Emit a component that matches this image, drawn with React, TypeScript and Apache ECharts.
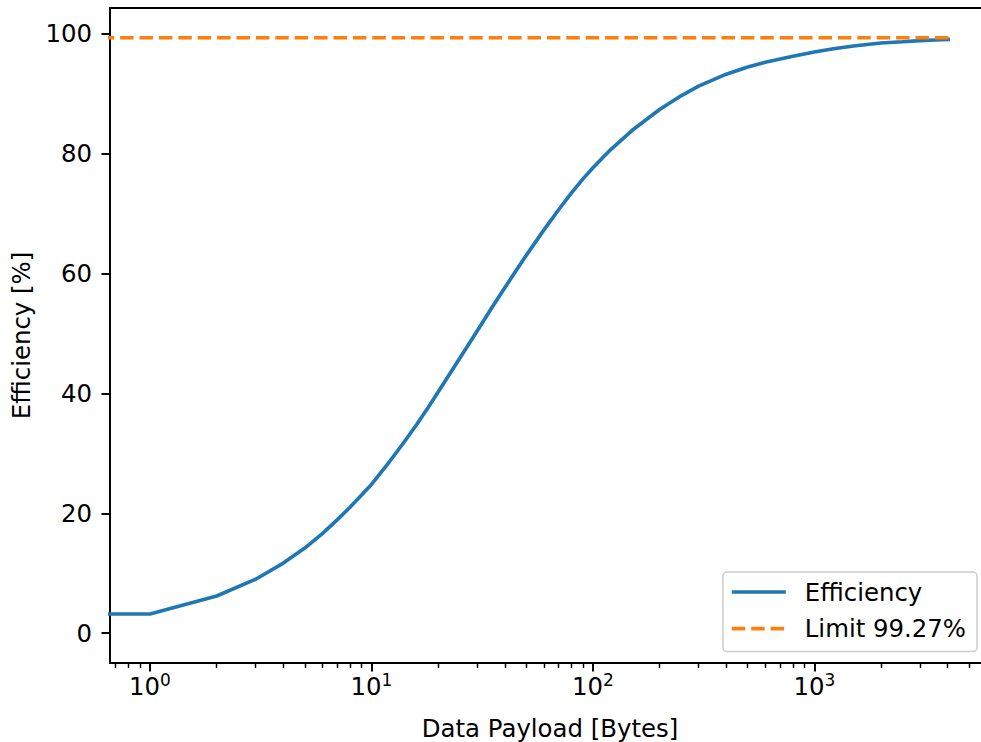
import React, { useEffect, useRef } from 'react';
import * as echarts from 'echarts';

// Data
const payloadBytes = [0, 1, 2, 3, 4, 5, 6, 7, 8, 9, 10, 12, 14, 16, 18, 20, 25, 30, 35, 40, 50, 60, 70, 80, 90, 100, 120, 150, 200, 250, 300, 400, 500, 600, 800, 1000, 1200, 1500, 2000, 2500, 3000, 3500, 4096];
const efficiencyPct = [0, 3.2, 6.2, 9.0, 11.7, 14.2, 16.6, 18.9, 21.0, 23.0, 24.8, 28.5, 31.8, 34.8, 37.6, 40.2, 45.8, 50.4, 54.3, 57.6, 63.0, 67.2, 70.6, 73.4, 75.7, 77.6, 80.6, 83.8, 87.3, 89.6, 91.2, 93.2, 94.4, 95.2, 96.2, 96.9, 97.4, 97.9, 98.4, 98.6, 98.8, 98.9, 99.0];
const limitBytes = [0, 4096];
const limitPct = [99.27, 99.27];

const xMajorTicks = [1, 10, 100, 1000];
const xMinorTicks = [0.7, 0.8, 0.9, 2, 3, 4, 5, 6, 7, 8, 9, 20, 30, 40, 50, 60, 70, 80, 90, 200, 300, 400, 500, 600, 700, 800, 900, 2000, 3000, 4000, 5000, 6000];
const yTicks = [0, 20, 40, 60, 80, 100];

const X_MIN = 0.6596;
const X_MAX = 6209;
const Y_MIN = -4.9635;
const Y_MAX = 104.2335;

const FONT = 'DejaVu Sans';
const FS = 24.4;

// matplotlib's log axis clips non-positive x to a tiny positive value
const clipLog = (x: number) => (x <= 0 ? 1e-300 : x);

export default function App() {
  const ref = useRef<HTMLDivElement>(null);
  useEffect(() => {
    if (!ref.current) return;
    const chart = echarts.init(ref.current, undefined, { renderer: 'svg' });
    const effData = payloadBytes.map((x, i) => [clipLog(x), efficiencyPct[i]]);
    const limData = limitBytes.map((x, i) => [clipLog(x), limitPct[i]]);
    chart.setOption({
      animation: false,
      backgroundColor: '#ffffff',
      grid: {
        left: 110,
        top: 8,
        right: 0,
        bottom: 79,
        containLabel: false,
        outerBoundsMode: 'none',
        show: true,
        borderColor: '#000000',
        borderWidth: 1.95,
        backgroundColor: 'transparent',
      },
      legend: {
        right: 13,
        top: 572,
        orient: 'vertical',
        padding: [8, 11, 11, 7],
        itemWidth: 54,
        itemHeight: 14,
        itemGap: 12.6,
        borderColor: '#cccccc',
        borderWidth: 1.5,
        borderRadius: 4,
        backgroundColor: 'rgba(255,255,255,0.8)',
        itemStyle: { opacity: 0 },
        lineStyle: { width: 3.66 },
        textStyle: {
          fontFamily: FONT,
          fontSize: FS,
          color: '#000000',
          lineHeight: 24,
          padding: [0, 0, 0, 14],
        },
        data: ['Efficiency', 'Limit 99.27%'],
      },
      xAxis: [
        {
          type: 'log',
          position: 'bottom',
          min: X_MIN,
          max: X_MAX,
          name: 'Data Payload [Bytes]',
          nameLocation: 'middle',
          nameGap: 53,
          nameTextStyle: { fontFamily: FONT, fontSize: FS, color: '#000000' },
          axisLine: { show: false, onZero: false },
          splitLine: { show: false },
          axisTick: {
            show: true,
            inside: false,
            length: 8.5,
            customValues: xMajorTicks,
            lineStyle: { color: '#000000', width: 1.95 },
          },
          axisLabel: {
            show: true,
            margin: 10,
            customValues: xMajorTicks,
            formatter: (v: number) => '{b|10}{s|' + Math.round(Math.log10(v)) + '}',
            rich: {
              b: { fontFamily: FONT, fontSize: FS, color: '#000000', lineHeight: 26 },
              s: { fontFamily: FONT, fontSize: 17, color: '#000000', lineHeight: 26, padding: [0, 0, 12, 0] },
            },
          },
        },
        {
          type: 'log',
          position: 'bottom',
          min: X_MIN,
          max: X_MAX,
          axisLine: { show: false, onZero: false },
          splitLine: { show: false },
          axisLabel: { show: false },
          axisTick: {
            show: true,
            inside: false,
            length: 4.9,
            customValues: xMinorTicks,
            lineStyle: { color: '#000000', width: 1.46 },
          },
        },
      ],
      yAxis: {
        type: 'value',
        min: Y_MIN,
        max: Y_MAX,
        name: 'Efficiency [%]',
        nameLocation: 'middle',
        nameRotate: 90,
        nameGap: 77,
        nameTextStyle: { fontFamily: FONT, fontSize: FS, color: '#000000' },
        axisLine: { show: false, onZero: false },
        splitLine: { show: false },
        axisTick: {
          show: true,
          inside: false,
          length: 8.5,
          customValues: yTicks,
          lineStyle: { color: '#000000', width: 1.95 },
        },
        axisLabel: {
          show: true,
          margin: 18,
          customValues: yTicks,
          fontFamily: FONT,
          fontSize: FS,
          color: '#000000',
        },
      },
      series: [
        {
          name: 'Efficiency',
          type: 'line',
          xAxisIndex: 0,
          data: effData,
          showSymbol: false,
          symbol: 'none',
          clip: true,
          lineStyle: { color: '#1f77b4', width: 3.66 },
          itemStyle: { color: '#1f77b4' },
          z: 3,
        },
        {
          name: 'Limit 99.27%',
          type: 'line',
          xAxisIndex: 0,
          data: limData,
          showSymbol: false,
          symbol: 'none',
          clip: true,
          lineStyle: { color: '#ff7f0e', width: 3.66, type: [13.5, 5.9] },
          itemStyle: { color: '#ff7f0e' },
          z: 4,
        },
      ],
    });
    return () => chart.dispose();
  }, []);
  return (
    <div
      style={{ position: 'absolute', left: 0, top: 0, width: 981, height: 742, overflow: 'hidden' }}
    >
      <div ref={ref} style={{ width: 990, height: 742 }} />
    </div>
  );
}
